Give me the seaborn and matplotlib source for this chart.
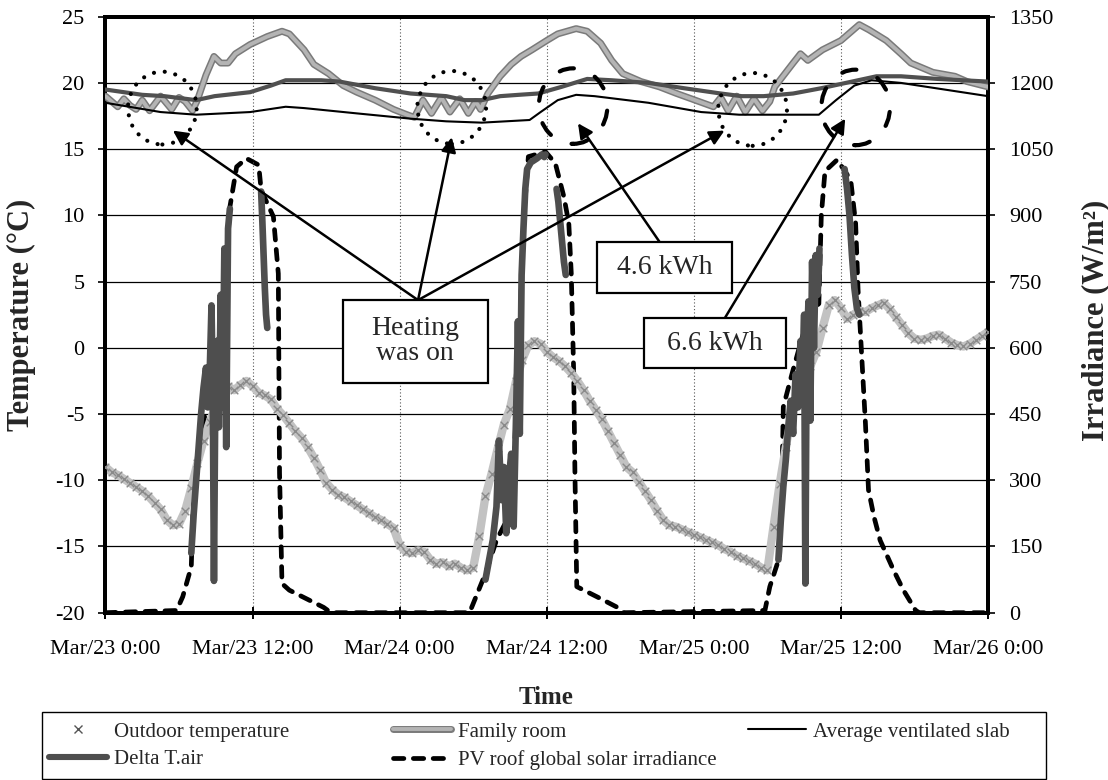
import numpy as np
import pandas as pd
import matplotlib
matplotlib.use("Agg")
import matplotlib.pyplot as plt
import seaborn as sns
from matplotlib.lines import Line2D
from matplotlib.patches import Ellipse, Rectangle
from matplotlib.legend_handler import HandlerTuple

sns.set_theme(style="white")
plt.rcParams["font.family"] = ["Liberation Serif", "DejaVu Serif"]
plt.rcParams["axes.unicode_minus"] = False

# ---------------- data (hours since Mar/23 0:00) ----------------
tick_hours = [0, 12, 24, 36, 48, 60, 72]
tick_labels = ["Mar/23 0:00", "Mar/23 12:00", "Mar/24 0:00", "Mar/24 12:00",
               "Mar/25 0:00", "Mar/25 12:00", "Mar/26 0:00"]

# outdoor temperature, half-hourly samples (°C)
outdoor_hours = np.arange(0, 72.5, 0.5)
outdoor_temp = [
    -9.0, -9.4, -9.6, -9.9, -10.2, -10.5, -10.8, -11.2, -11.7, -12.2,
    -13.0, -13.4, -13.3, -12.3, -10.6, -8.7, -7.0, -5.6, -4.4, -3.4,
    -2.9, -3.2, -2.8, -2.5, -2.9, -3.4, -3.6, -3.9, -4.6, -5.1,
    -5.7, -6.3, -6.8, -7.5, -8.3, -9.2, -10.2, -10.7, -11.1, -11.3,
    -11.6, -11.9, -12.2, -12.5, -12.8, -13.0, -13.3, -13.6, -14.9, -15.4,
    -15.5, -15.3, -15.4, -16.0, -16.3, -16.2, -16.5, -16.3, -16.6, -16.8,
    -16.6, -14.2, -11.2, -9.5, -7.6, -5.8, -4.6, -2.5, -0.9, 0.2,
    0.5, 0.3, -0.3, -0.7, -1.0, -1.4, -1.9, -2.5, -3.2, -4.0,
    -4.7, -5.4, -6.3, -7.2, -8.1, -9.0, -9.4, -10.1, -10.8, -11.5,
    -12.3, -13.0, -13.4, -13.5, -13.7, -13.9, -14.1, -14.3, -14.5, -14.7,
    -14.9, -15.2, -15.4, -15.7, -15.9, -16.1, -16.3, -16.6, -16.8, -13.5,
    -10.3, -7.5, -5.0, -3.6, -2.6, -1.4, -0.3, 1.5, 3.2, 3.6,
    3.0, 2.2, 2.5, 2.8, 2.7, 3.0, 3.2, 3.4, 2.9, 2.3,
    1.7, 1.1, 0.7, 0.6, 0.7, 0.9, 1.0, 0.7, 0.4, 0.2,
    0.1, 0.3, 0.6, 0.9, 1.2,
]

# family room temperature (°C)
family_hours = [0.0, 0.5, 1.0, 1.5, 2.0, 2.5, 3.0, 3.6, 4.5, 5.4, 6.0, 6.5, 7.1, 7.5,
                8.2, 8.85, 9.4, 10.0, 10.6, 11.8, 13.2, 14.4, 15.0, 16.2, 17.0, 18.2,
                19.4, 20.5, 22.0, 23.5, 24.6, 25.2, 25.9, 26.6, 27.4, 28.1, 28.9, 29.6,
                30.2, 30.6, 31.2, 32.2, 33.1, 33.9, 34.8, 36.0, 36.9, 38.4, 39.3, 40.4,
                41.3, 42.2, 43.7, 45.2, 46.6, 48.1, 49.6, 50.2, 50.8, 51.5, 52.2, 52.9,
                53.6, 54.2, 54.6, 56.1, 56.7, 57.3, 58.5, 60.0, 61.5, 62.3, 63.7, 64.9,
                65.7, 67.5, 69.3, 70.3, 72.0]
family_temp = [19.0, 18.6, 18.2, 18.8, 18.3, 18.0, 18.7, 17.9, 19.0, 18.0, 18.9, 18.6, 17.9, 18.7,
               20.6, 22.0, 21.5, 21.5, 22.2, 22.9, 23.5, 23.9, 23.7, 22.5, 21.4, 20.7,
               19.8, 19.3, 18.7, 18.0, 17.6, 17.4, 18.7, 17.7, 18.9, 17.8, 18.8, 17.7,
               18.6, 18.0, 19.2, 20.5, 21.4, 22.0, 22.5, 23.2, 23.7, 24.1, 23.9, 23.0,
               21.7, 20.7, 20.1, 19.7, 19.2, 18.7, 18.2, 18.9, 17.9, 19.0, 17.8, 18.8,
               17.9, 18.6, 19.7, 21.5, 22.2, 21.7, 22.5, 23.2, 24.4, 24.0, 23.2, 22.2,
               21.5, 20.8, 20.5, 20.1, 19.7]

# upper room-side line (°C)
upper_hours = [0.0, 3.0, 4.8, 7.4, 8.9, 11.8, 13.5, 14.7, 17.6, 19.1, 22.0, 24.9, 27.8,
               29.3, 30.7, 32.2, 33.7, 35.3, 37.2, 39.3, 41.3, 44.3, 47.2, 50.2, 51.9,
               53.7, 56.1, 58.4, 61.4, 62.9, 64.9, 67.9, 72.0]
upper_temp = [19.5, 19.1, 19.0, 18.7, 19.0, 19.3, 19.8, 20.2, 20.2, 20.1, 19.6, 19.2, 19.0,
              18.7, 18.7, 19.0, 19.1, 19.2, 19.7, 20.3, 20.2, 20.0, 19.6, 19.2, 19.0,
              19.0, 19.2, 19.6, 20.2, 20.5, 20.5, 20.3, 20.1]

# average ventilated slab temperature (°C)
slab_hours = [0.0, 4.5, 7.4, 11.8, 14.7, 16.2, 20.5, 24.9, 27.8, 30.7, 34.6, 35.5, 36.9,
              38.4, 39.9, 44.3, 48.6, 51.7, 56.1, 58.2, 59.6, 61.1, 62.5, 64.9, 72.0]
slab_temp = [18.5, 17.8, 17.6, 17.8, 18.2, 18.1, 17.7, 17.3, 17.1, 17.0, 17.2, 17.8, 18.7,
             19.1, 19.0, 18.5, 17.8, 17.6, 17.6, 17.6, 18.7, 19.8, 20.2, 20.0, 19.0]

# delta T of the roof air, logged only while the fan runs (°C)
delta_segment = [1] * 21 + [2] * 6 + [3] * 25 + [4] * 6 + [5] * 22 + [6] * 7
delta_hours = [7.0, 7.2, 7.4, 7.6, 7.8, 8.0, 8.2, 8.35, 8.5, 8.65, 8.75, 8.85, 8.95, 9.1,
               9.25, 9.4, 9.55, 9.7, 9.85, 10.0, 10.15,
               12.7, 12.8, 12.9, 13.0, 13.1, 13.2,
               31.0, 31.3, 31.6, 31.9, 32.1, 32.3, 32.5, 32.7, 32.9, 33.1, 33.3, 33.5,
               33.65, 33.8, 33.95, 34.1, 34.25, 34.4, 34.7, 35.2, 35.6, 35.7, 35.8, 35.85, 35.9,
               36.8, 36.95, 37.1, 37.25, 37.4, 37.55,
               54.9, 55.1, 55.3, 55.5, 55.7, 55.9, 56.1, 56.3, 56.5, 56.7, 56.85, 57.0,
               57.1, 57.2, 57.35, 57.5, 57.65, 57.8, 57.95, 58.1, 58.2, 58.25,
               60.3, 60.5, 60.7, 60.9, 61.1, 61.3, 61.5]
delta_temp = [-15.5, -12.5, -10.0, -7.5, -5.0, -3.0, -1.5, -4.5, -2.0, 3.2, -3.0, -17.6, -5.0, 0.5,
              -6.0, 4.0, -4.5, 7.5, -7.5, 9.0, 10.5,
              11.8, 9.5, 7.0, 4.5, 2.5, 1.5,
              -17.5, -16.0, -14.5, -12.0, -7.0, -11.5, -9.0, -14.0, -10.0, -8.0, -13.5, -5.0,
              2.0, -6.5, 5.5, 9.0, 12.0, 13.5, 14.0, 14.3, 14.6, 14.5, 14.4, 14.5, 14.6,
              12.0, 11.0, 9.5, 8.0, 6.5, 5.5,
              -16.0, -13.0, -10.5, -8.5, -6.0, -4.0, -6.5, -2.0, -4.5, 0.5, -3.0, 2.5,
              -17.8, -1.0, 3.5, -5.5, 6.5, 0.0, 7.0, 4.0, 6.0, 7.5,
              13.5, 12.0, 10.0, 7.0, 4.5, 3.0, 2.5]

# PV roof global solar irradiance (W/m²)
irr_hours = [0, 5.8, 6.3, 7.0, 7.15, 7.7, 8.8, 9.6, 10.15, 10.7, 11.5, 12.5, 12.7, 13.7,
             14.1, 14.2, 14.4, 15.0, 17.8, 18.4,
             29.7, 31.0, 31.9, 33.3, 33.4, 33.55, 33.8, 33.95, 34.2, 34.5, 35.9, 36.7,
             37.4, 37.8, 38.0, 38.2, 38.3, 38.45, 40.1, 41.7, 42.3,
             53.8, 54.2, 55.0, 55.2, 55.3, 56.0, 56.8, 57.5, 58.2, 58.4, 58.7, 59.7,
             60.8, 61.2, 61.4, 61.7, 62.0, 62.25, 62.7, 63.2, 64.3, 65.1, 66.1, 66.4, 72]
irr_values = [0, 5, 36, 104, 240, 390, 542, 693, 919, 1010, 1029, 1014, 957, 897,
              768, 316, 66, 51, 12, 0,
              0, 89, 164, 240, 391, 482, 617, 769, 920, 1033, 1044, 1018,
              942, 882, 769, 542, 316, 59, 36, 13, 0,
              5, 59, 127, 316, 466, 540, 620, 680, 700, 900, 1000, 1026,
              980, 882, 731, 580, 429, 278, 217, 164, 96, 51, 5, 0, 0]

outdoor_df = pd.DataFrame({"hour": outdoor_hours, "temp": outdoor_temp})
family_df = pd.DataFrame({"hour": family_hours, "temp": family_temp})
upper_df = pd.DataFrame({"hour": upper_hours, "temp": upper_temp})
slab_df = pd.DataFrame({"hour": slab_hours, "temp": slab_temp})
delta_df = pd.DataFrame({"hour": delta_hours, "temp": delta_temp, "segment": delta_segment})
irr_df = pd.DataFrame({"hour": irr_hours, "irr": irr_values})

# ---------------- figure ----------------
fig = plt.figure(figsize=(11.08, 7.8), dpi=100)
ax = fig.add_axes([0.0952, 0.2145, 0.7965, 0.7641])
ax2 = ax.twinx()
ax.set_zorder(ax2.get_zorder() + 1)
ax.patch.set_visible(False)
ax2.patch.set_facecolor("white")

# irradiance on the right axis
sns.lineplot(data=irr_df, x="hour", y="irr", ax=ax2, color="black", linewidth=3.4,
             estimator=None, sort=False, legend=False)
irr_line = ax2.lines[-1]
irr_line.set_dashes((2.2, 2.0))
irr_line.set_dash_capstyle("round")

# temperatures on the left axis
sns.lineplot(data=outdoor_df, x="hour", y="temp", ax=ax, color="#c2c2c2", linewidth=6,
             estimator=None, sort=False, legend=False, zorder=2)
sns.scatterplot(data=outdoor_df, x="hour", y="temp", ax=ax, marker="x", s=30,
                color="#8a8a8a", linewidth=1.0, legend=False, zorder=3)

sns.lineplot(data=delta_df, x="hour", y="temp", units="segment", estimator=None, sort=False,
             ax=ax, color="#4e4e4e", linewidth=4.8, legend=False, zorder=4)

sns.lineplot(data=family_df, x="hour", y="temp", ax=ax, color="#7a7a7a", linewidth=5.0,
             estimator=None, sort=False, legend=False, zorder=5)
sns.lineplot(data=family_df, x="hour", y="temp", ax=ax, color="#b4b4b4", linewidth=2.8,
             estimator=None, sort=False, legend=False, zorder=5)
sns.lineplot(data=upper_df, x="hour", y="temp", ax=ax, color="#505050", linewidth=3.0,
             estimator=None, sort=False, legend=False, zorder=6)
sns.lineplot(data=slab_df, x="hour", y="temp", ax=ax, color="black", linewidth=1.5,
             estimator=None, sort=False, legend=False, zorder=6)

# ---------------- axes styling ----------------
ax.set_xlim(0, 72)
ax.set_ylim(-20, 25)
ax2.set_ylim(0, 1350)
ax.set_xticks(tick_hours)
ax.set_xticklabels(tick_labels)
ax.set_yticks(range(-20, 26, 5))
ax2.set_yticks(range(0, 1351, 150))

ax.yaxis.grid(True, color="black", linewidth=0.9, zorder=0)
ax.xaxis.grid(True, color="#555555", linewidth=0.8, linestyle=(0, (1, 2)), zorder=0)
ax.set_axisbelow(True)

for a in (ax, ax2):
    for s in a.spines.values():
        s.set_linewidth(2.8)
        s.set_color("black")

ax.tick_params(axis="y", direction="out", length=5, width=1.2, pad=10,
               labelsize=16, colors="black", left=True)
ax.tick_params(axis="x", direction="inout", length=8, width=1.4, pad=16,
               labelsize=16, colors="black", bottom=True)
ax2.tick_params(axis="y", direction="out", length=5, width=1.2, pad=10,
                labelsize=16, colors="black", right=True)

ax.set_xlabel("")
ax.set_ylabel("Temperature (°C)", fontsize=22, fontweight="bold")
ax2.set_ylabel("Irradiance (W/m²)", fontsize=22, fontweight="bold")
ax.yaxis.set_label_coords(-0.079, 0.5)
ax2.yaxis.set_label_coords(1.1055, 0.49)
fig.text(546 / 1108, 1 - 698 / 780, "Time", ha="center", va="center",
         fontsize=18, fontweight="bold")

# ---------------- annotations ----------------
for cx, cy in [(4.64, 18.1), (28.25, 18.15), (52.8, 18.0)]:
    e = Ellipse((cx, cy), 5.6, 5.5, fill=False, edgecolor="black", linewidth=3.0,
                linestyle=(0, (0.01, 2.6)), zorder=8)
    e.set_capstyle("round")
    ax.add_patch(e)
for cx, cy in [(38.15, 18.25), (61.2, 18.15)]:
    e = Ellipse((cx, cy), 5.6, 5.7, fill=False, edgecolor="black", linewidth=3.0,
                linestyle=(0, (3.5, 5.5)), zorder=8)
    e.set_capstyle("round")
    ax.add_patch(e)

arrow_kw = dict(arrowstyle="-|>", color="black", lw=1.8, mutation_scale=22,
                shrinkA=0, shrinkB=0)
for tip in [(5.5, 16.4), (28.25, 15.9), (50.5, 16.4)]:
    ax.annotate("", xy=tip, xytext=(25.5, 3.6), arrowprops=arrow_kw, zorder=9)
ax.annotate("", xy=(38.55, 16.95), xytext=(45.2, 8.0), arrowprops=arrow_kw, zorder=9)
ax.annotate("", xy=(60.35, 17.3), xytext=(50.5, 2.2), arrowprops=arrow_kw, zorder=9)

boxes = [
    ((19.35, -2.64), 11.85, 6.24, "Heating\nwas on"),
    ((40.1, 4.15), 11.0, 3.85, "4.6 kWh"),
    ((43.95, -1.56), 11.55, 3.78, "6.6 kWh"),
]
for (x0, y0), w, h, txt in boxes:
    ax.add_patch(Rectangle((x0, y0), w, h, facecolor="white", edgecolor="black",
                           linewidth=1.6, zorder=10))
    ax.text(x0 + w / 2, y0 + h / 2, txt, ha="center", va="center", fontsize=20,
            linespacing=1.0, zorder=11)

# ---------------- legend: framed box with three columns ----------------
h_outdoor = Line2D([], [], linestyle="none", marker="x", color="#555555", markersize=6,
                   markeredgewidth=1.0)
h_delta = Line2D([], [], color="#4e4e4e", linewidth=4.4)
h_family = (Line2D([], [], color="#7a7a7a", linewidth=5.0),
            Line2D([], [], color="#b4b4b4", linewidth=2.8))
h_pv = Line2D([], [], color="black", linewidth=3.4, dashes=(2.2, 2.0),
              dash_capstyle="round")
h_slab = Line2D([], [], color="black", linewidth=1.5)

fig.patches.append(Rectangle((42 / 1108, 1 - 779 / 780), 1004 / 1108, 67 / 780,
                             transform=fig.transFigure, facecolor="none",
                             edgecolor="black", linewidth=1.0))

legend_columns = [
    (49, [h_outdoor, h_delta], ["Outdoor temperature", "Delta T.air"]),
    (393, [h_family, h_pv], ["Family room", "PV roof global solar irradiance"]),
    (748, [h_slab], ["Average ventilated slab"]),
]
for x_px, handles, labels in legend_columns:
    lg = fig.legend(handles, labels, loc="upper left",
                    bbox_to_anchor=(x_px / 1108, 1 - 722 / 780),
                    handler_map={tuple: HandlerTuple(ndivide=1, pad=0)},
                    fontsize=15, frameon=False, handlelength=2.8, handletextpad=0.3,
                    borderpad=0, borderaxespad=0, labelspacing=0.4)

fig.savefig("out.png", dpi=100)
